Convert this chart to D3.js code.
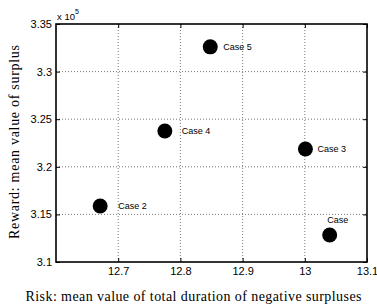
<!DOCTYPE html>
<html>
<head>
<meta charset="utf-8">
<script src="https://cdn.jsdelivr.net/npm/d3@7"></script>
<style>
  body { margin: 0; background: #fff; }
  svg { display: block; }
</style>
</head>
<body>
<svg></svg>
<script>
// Data =======================================================================

const cases = ["Case", "Case 2", "Case 3", "Case 4", "Case 5"];
const risk = [13.04, 12.671, 13.001, 12.775, 12.848];
const reward = [3.1284, 3.1588, 3.2187, 3.2376, 3.326]; // x 10^5
const xTicks = [12.7, 12.8, 12.9, 13, 13.1];
const yTicks = [3.1, 3.15, 3.2, 3.25, 3.3, 3.35];

// Layout =====================================================================

const svgWidth = 377,
  svgHeight = 306;
const plotL = 56, plotR = 367, plotT = 24, plotB = 262;
// label nudges (px) relative to each marker
const labelDx = [8, 18, 12, 17, 13];
const labelDy = [-12, 3, 3, 3, 3];

const svg = d3.select("svg")
  .attr("width", svgWidth)
  .attr("height", svgHeight);

const x = d3.scaleLinear().domain([12.6, 13.1]).range([plotL, plotR]);
const y = d3.scaleLinear().domain([3.1, 3.35]).range([plotB, plotT]);

// Grid =======================================================================

svg.append("g")
  .selectAll("line")
  .data(xTicks.filter(d => d < 13.1))
  .enter()
  .append("line")
  .attr("x1", d => x(d)).attr("x2", d => x(d))
  .attr("y1", plotT).attr("y2", plotB)
  .attr("stroke", "#555")
  .attr("stroke-width", 0.8)
  .attr("stroke-dasharray", "1,2");

svg.append("g")
  .selectAll("line")
  .data(yTicks.filter(d => d > 3.1 && d < 3.35))
  .enter()
  .append("line")
  .attr("x1", plotL).attr("x2", plotR)
  .attr("y1", d => y(d)).attr("y2", d => y(d))
  .attr("stroke", "#555")
  .attr("stroke-width", 0.8)
  .attr("stroke-dasharray", "1,2");

// Axes =======================================================================

const xAxis = svg.append("g")
  .attr("transform", `translate(0,${plotB})`)
  .call(d3.axisBottom(x).tickValues(xTicks).tickSizeInner(-4).tickSizeOuter(0).tickPadding(5).tickFormat(d3.format("")));

const yAxis = svg.append("g")
  .attr("transform", `translate(${plotL},0)`)
  .call(d3.axisLeft(y).tickValues(yTicks).tickSizeInner(-4).tickSizeOuter(0).tickPadding(4).tickFormat(d3.format("")));

[xAxis, yAxis].forEach(a => {
  a.select(".domain").remove();
  a.selectAll("line").attr("stroke", "#000");
  a.selectAll("text")
    .attr("fill", "#000")
    .style("font-family", "Liberation Sans, Arial, sans-serif")
    .style("font-size", "11px");
});

// mirrored ticks on top & right
svg.append("g")
  .attr("transform", `translate(0,${plotT})`)
  .call(d3.axisTop(x).tickValues(xTicks).tickSizeInner(-4).tickSizeOuter(0).tickFormat(""))
  .call(g => g.select(".domain").remove());
svg.append("g")
  .attr("transform", `translate(${plotR},0)`)
  .call(d3.axisRight(y).tickValues(yTicks).tickSizeInner(-4).tickSizeOuter(0).tickFormat(""))
  .call(g => g.select(".domain").remove());

// Frame
svg.append("rect")
  .attr("x", plotL).attr("y", plotT)
  .attr("width", plotR - plotL).attr("height", plotB - plotT)
  .attr("fill", "none")
  .attr("stroke", "#000")
  .attr("stroke-width", 1.6);

// exponent label
const expo = svg.append("text")
  .attr("x", plotL + 1).attr("y", plotT - 4)
  .style("font-family", "Liberation Sans, Arial, sans-serif")
  .style("font-size", "9.5px");
expo.append("tspan").text("x 10");
expo.append("tspan").attr("dy", -6).style("font-size", "7px").text("5");

// Points =====================================================================

svg.append("g")
  .selectAll("circle")
  .data(cases)
  .enter()
  .append("circle")
  .attr("cx", (d, i) => x(risk[i]))
  .attr("cy", (d, i) => y(reward[i]))
  .attr("r", 7.5)
  .attr("fill", "#000");

svg.append("g")
  .selectAll("text")
  .data(cases)
  .enter()
  .append("text")
  .attr("x", (d, i) => x(risk[i]) + labelDx[i])
  .attr("y", (d, i) => y(reward[i]) + labelDy[i])
  .attr("text-anchor", (d, i) => labelDy[i] < 0 ? "middle" : "start")
  .style("font-family", "Liberation Sans, Arial, sans-serif")
  .style("font-size", "9px")
  .text(d => d);

// Titles =====================================================================

svg.append("text")
  .attr("x", 193.5)
  .attr("y", 301)
  .attr("text-anchor", "middle")
  .attr("textLength", 336)
  .style("font-family", "Liberation Serif, Times New Roman, serif")
  .style("font-size", "14px")
  .text("Risk: mean value of total duration of negative surpluses");

svg.append("text")
  .attr("transform", `translate(19,142) rotate(-90)`)
  .attr("text-anchor", "middle")
  .attr("textLength", 194)
  .style("font-family", "Liberation Serif, Times New Roman, serif")
  .style("font-size", "14px")
  .text("Reward: mean value of surplus");
</script>
</body>
</html>
